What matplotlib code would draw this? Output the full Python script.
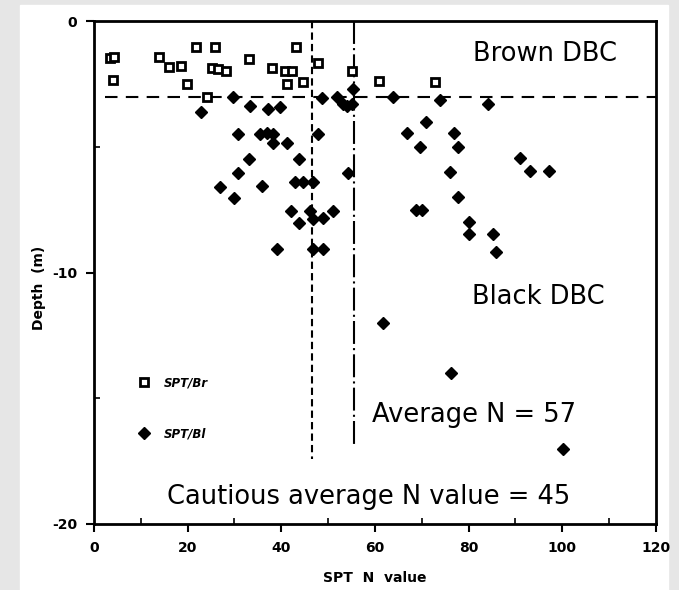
import matplotlib
matplotlib.use("Agg")
import matplotlib.pyplot as plt
import matplotlib.ticker as ticker
from matplotlib.patches import Rectangle

# SPT N values and depths
brown_n = [3.4, 4.2, 4.1, 13.9, 16.0, 18.6, 19.9, 21.8, 25.8, 25.2, 26.5, 28.2,
           24.1, 33.1, 38.0, 40.8, 42.3, 41.2, 43.1, 44.6, 47.8, 55.1, 60.8, 72.8]
brown_depth = [-1.45, -1.4, -2.33, -1.41, -1.8, -1.77, -2.5, -1.02, -1.0, -1.85, -1.9, -1.97,
               -3.0, -1.49, -1.85, -1.97, -1.97, -2.5, -1.02, -2.4, -1.64, -1.97, -2.37, -2.4]

black_n = [22.8, 29.7, 33.3, 37.2, 39.7, 48.7, 51.9, 53.2, 54.0, 55.1, 55.4,
           63.9, 73.9, 70.9, 84.1,
           30.8, 35.4, 36.9, 38.2, 38.2, 41.2, 47.8, 66.8, 69.6, 76.9, 77.7,
           33.1, 43.8, 30.8, 54.2, 76.0, 26.9, 35.9, 42.9, 44.6, 46.8,
           29.9, 77.7, 42.1, 46.1, 51.0, 46.8, 48.9, 43.8, 68.8, 70.0,
           80.1, 80.1, 39.1, 46.8, 48.9, 91.0, 93.1, 97.2, 85.2, 85.8,
           61.7, 76.2, 100.2]
black_depth = [-3.6, -3.0, -3.37, -3.5, -3.4, -3.04, -3.0, -3.3, -3.37, -3.3, -2.7,
               -3.0, -3.13, -4.0, -3.3,
               -4.48, -4.48, -4.45, -4.48, -4.85, -4.84, -4.48, -4.45, -5.0, -4.44, -5.0,
               -5.48, -5.48, -6.04, -6.04, -6.0, -6.6, -6.55, -6.4, -6.4, -6.4,
               -7.03, -7.0, -7.55, -7.55, -7.55, -7.87, -7.83, -8.03, -7.5, -7.5,
               -8.0, -8.47, -9.06, -9.06, -9.06, -5.44, -5.96, -5.96, -8.47, -9.18,
               -12.0, -13.99, -17.0]

boundary_depth = -3.0
cautious_n = 46.5
average_n = 55.6

fig = plt.figure(figsize=(6.79, 5.90), dpi=100)
fig.patch.set_facecolor('#e6e6e6')
fig.patches.append(Rectangle((20 / 679, 0), 648 / 679, 585 / 590,
                             transform=fig.transFigure, color='white', zorder=-10))

ax = fig.add_axes([0.1384, 0.1119, 0.8276, 0.8517])
ax.set_xlim(0, 120)
ax.set_ylim(-20, 0)

ax.plot(brown_n, brown_depth, ls='none', marker='s', ms=5.2, mfc='white',
        mec='black', mew=2.0, label='SPT/Br', zorder=3)
ax.plot(black_n, black_depth, ls='none', marker='D', ms=6, color='black',
        label='SPT/Bl', zorder=3)

# boundary and average lines
ax.axhline(boundary_depth, xmin=0.02, color='black', lw=1.5, ls=(0, (6, 4)))
ax.plot([cautious_n, cautious_n], [0, -17.4], color='black', lw=1.5, ls=(0, (3.5, 2)))
ax.plot([average_n, average_n], [0, -16.8], color='black', lw=1.5, ls=(0, (11, 2, 1, 2)))

txt = dict(fontsize=18.5, color='black', va='center', family='DejaVu Sans')
ax.text(81, -1.3, 'Brown DBC', **txt)
ax.text(80.7, -10.98, 'Black DBC', **txt)
ax.text(59.4, -15.68, 'Average N = 57', **txt)
ax.text(15.6, -18.94, 'Cautious average N value = 45', **txt)

leg = ax.legend(loc='upper left', bbox_to_anchor=(0.06, 0.315), frameon=False,
                labelspacing=3.2, handletextpad=1.2, handlelength=1.0,
                prop={'style': 'italic', 'weight': 'bold', 'size': 8.5})

ax.xaxis.set_major_locator(ticker.MultipleLocator(20))
ax.xaxis.set_minor_locator(ticker.MultipleLocator(10))
ax.yaxis.set_major_locator(ticker.FixedLocator([-20, -10, 0]))
ax.yaxis.set_minor_locator(ticker.MultipleLocator(5))
ax.yaxis.set_major_formatter(ticker.FixedFormatter(['-20', '-10', '0']))
ax.tick_params(which='major', direction='out', length=6, width=1.5, labelsize=10, pad=6)
ax.tick_params(which='minor', direction='in', length=4, width=1.2)
for lab in ax.get_xticklabels() + ax.get_yticklabels():
    lab.set_fontweight('bold')

for sp in ax.spines.values():
    sp.set_linewidth(2)

ax.set_xlabel('SPT  N  value', fontsize=10, fontweight='bold', labelpad=12)
ax.set_ylabel('Depth  (m)', fontsize=10, fontweight='bold')
ax.yaxis.set_label_coords(-0.085, 0.47)

fig.savefig('out.png', dpi=100)
